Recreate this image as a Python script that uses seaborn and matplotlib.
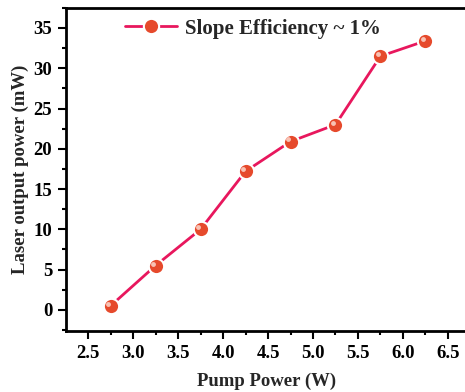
import matplotlib
matplotlib.use("Agg")
import matplotlib.pyplot as plt
import matplotlib.transforms as mtransforms
import seaborn as sns
import pandas as pd
from matplotlib.ticker import MultipleLocator

pump_power = [2.75, 3.25, 3.75, 4.25, 4.75, 5.25, 5.75, 6.25]
laser_output = [0.5, 5.5, 10.0, 17.2, 20.9, 23.0, 31.5, 33.4]
series_label = "Slope Efficiency ~ 1%"
x_label = "Pump Power (W)"
y_label = "Laser output power (mW)"

df = pd.DataFrame({"x": pump_power, "y": laser_output})

sns.set_theme(style="ticks")
plt.rcParams['font.family'] = ['Liberation Serif', 'DejaVu Serif']
plt.rcParams['font.weight'] = 'bold'

fig = plt.figure(figsize=(4.65, 3.92), dpi=100)
ax = fig.add_axes([0.142, 0.156, 0.862, 0.824])

sns.lineplot(data=df, x="x", y="y", ax=ax, color="#e8175d", linewidth=2,
             marker="o", markersize=11, markerfacecolor="#e64a2c",
             markeredgecolor="white", markeredgewidth=1.5, label=series_label)
# specular highlight, offset up-left
hl = mtransforms.offset_copy(ax.transData, fig=fig, x=-1.5, y=1.5, units='points')
ax.plot(pump_power, laser_output, linestyle="none", marker="o", markersize=3.5,
        markerfacecolor="#fbd0c4", markeredgewidth=0, alpha=0.9, transform=hl)

ax.set_xlim(2.255, 6.71)
ax.set_ylim(-2.6, 37.5)
ax.xaxis.set_major_locator(MultipleLocator(0.5))
ax.xaxis.set_minor_locator(MultipleLocator(0.25))
ax.yaxis.set_major_locator(MultipleLocator(5))
ax.yaxis.set_minor_locator(MultipleLocator(2.5))
ax.xaxis.set_major_formatter(matplotlib.ticker.FormatStrFormatter('%.1f'))

ax.tick_params(which='major', direction='out', length=6, width=1.5, labelsize=13.5,
               color='black', labelcolor='black', pad=4)
ax.tick_params(which='minor', direction='out', length=3, width=1.5, color='black')
ax.tick_params(axis='x', which='both', top=False, bottom=True)
ax.tick_params(axis='y', which='both', left=True, right=False)
for lab in ax.get_xticklabels() + ax.get_yticklabels():
    lab.set_fontweight('bold')

for s in ['left', 'bottom', 'top', 'right']:
    ax.spines[s].set_linewidth(2)
    ax.spines[s].set_color('black')

ax.set_xlabel(x_label, fontsize=13.5, fontweight='bold', labelpad=8)
ax.set_ylabel(y_label, fontsize=13.5, fontweight='bold', labelpad=3)

leg = ax.legend(loc='upper left', bbox_to_anchor=(0.1, 1.025), frameon=False,
                prop={'family': 'Liberation Serif', 'weight': 'bold', 'size': 15},
                handlelength=2.5, handletextpad=0.4)

fig.savefig("out.png", dpi=100)
